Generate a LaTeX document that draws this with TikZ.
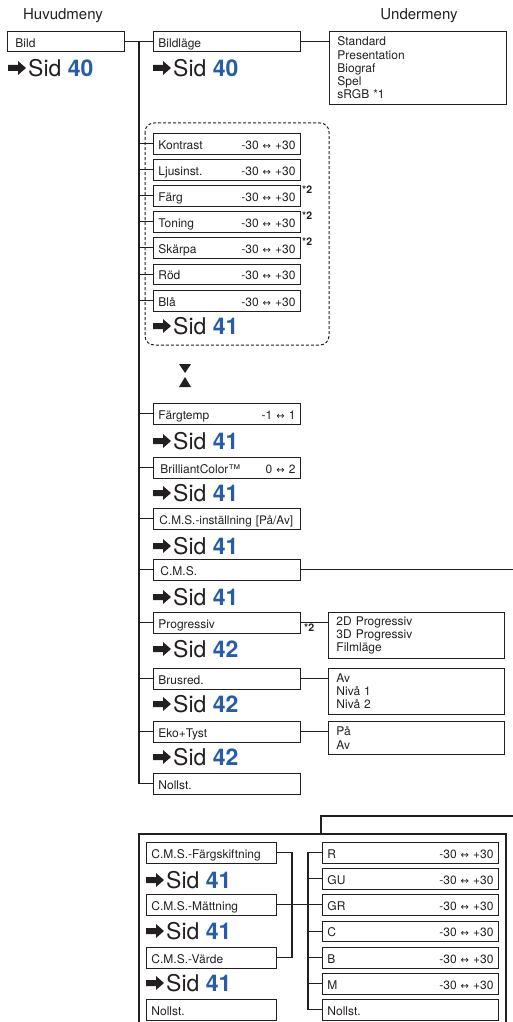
\documentclass[tikz,border=0pt]{standalone}
\usepackage{fontspec}
\setmainfont{TeX Gyre Heros}
\newfontfamily\dejavu{DejaVu Sans}
\usetikzlibrary{calc}
\definecolor{ink}{RGB}{35,31,32}
\definecolor{sidblue}{RGB}{38,92,168}
\newcommand\lr{{\dejavu\fontsize{10}{10}\selectfont ↔}}
\newcommand\rng[2]{#1 \lr{} #2}
\newcommand\sidref[4]{%
  \fill[ink] (#2,#3) ++(0,-3) -- ++(10,0) -- ++(0,-4) -- ++(8,7) -- ++(-8,7) -- ++(0,-4) -- ++(-10,0) -- cycle;
  \node[sidtext] (#1) at ({#2+20},#3) {Sid \textcolor{sidblue}{\bfseries #4}};
}
\begin{document}
\begin{tikzpicture}[x=1pt,y=-1pt,
  box/.style={draw=ink, line width=0.9pt, anchor=north west, minimum height=20.5pt,
    inner xsep=5pt, inner ysep=0pt, text height=11.3pt, text depth=0.5pt,
    font=\fontsize{12}{13}\selectfont, align=left, text=ink},
  subbox/.style={box, text width=137pt},
  mainbox/.style={box, text width=107pt},
  lbox/.style={box, text width=120pt},
  rbox/.style={box, text width=166pt},
  opt/.style={draw=ink, line width=0.9pt, anchor=north west, inner xsep=8pt, inner ysep=0pt,
    font=\fontsize{12}{13.2}\selectfont, align=left, text=ink},
  conn/.style={draw=ink, line width=1.4pt},
  sidtext/.style={anchor=west, inner sep=0pt, font=\fontsize{23}{23}\selectfont, text=ink},
  startwo/.style={anchor=north west, inner sep=0pt, font=\bfseries\fontsize{10.5}{10.5}\selectfont, text=ink},
  header/.style={inner sep=0pt, font=\fontsize{15}{16}\selectfont, text=ink}
]
\useasboundingbox (0,0) rectangle (513,1022);

% headers
\node[header] (hmain) at (63,16) {Huvudmeny};
\node[header] (hsub) at (419,16) {Undermeny};

% top boxes
\node[mainbox] (bild) at (7,31) {\hspace{3pt}Bild};
\sidref{sid0}{8}{68}{40}
\node[subbox] (bildlage) at (153,31) {Bildläge};
\sidref{sid1}{153}{68}{40}
\node[opt, minimum width=177pt, minimum height=73pt, text width=161pt] (bildopts) at (329,31)
  {Standard\\Presentation\\Biograf\\Spel\\sRGB *1};

% dashed group
\draw[ink, line width=1pt, dash pattern=on 3pt off 2pt, rounded corners=9pt] (145,123) rectangle (329,345);
\node[subbox] (kontrast) at (153,133) {Kontrast\hfill \rng{-30}{+30}};
\node[subbox] (ljus) at (153,159) {Ljusinst.\hfill \rng{-30}{+30}};
\node[subbox] (farg) at (153,185) {Färg\hfill \rng{-30}{+30}};
\node[subbox] (toning) at (153,211) {Toning\hfill \rng{-30}{+30}};
\node[subbox] (skarpa) at (153,237) {Skärpa\hfill \rng{-30}{+30}};
\node[subbox] (rod) at (153,263.5) {Röd\hfill \rng{-30}{+30}};
\node[subbox] (bla) at (153,290) {Blå\hfill \rng{-30}{+30}};
\node[startwo] (st1) at (302,186) {*2};
\node[startwo] (st2) at (302,212) {*2};
\node[startwo] (st3) at (302,238) {*2};
\sidref{sid2}{153}{326}{41}

% hourglass
\fill[ink] (179,364) -- (191,364) -- (185,373) -- cycle;
\fill[ink] (185,377) -- (191,387) -- (179,387) -- cycle;

% lower items
\node[subbox] (fargtemp) at (153,403) {Färgtemp\hfill \rng{-1}{1}};
\sidref{sid3}{153}{441}{41}
\node[subbox] (brill) at (153,457) {\hspace{2pt}BrilliantColor™\hfill \rng{0}{2}};
\sidref{sid4}{153}{493}{41}
\node[subbox] (cmsinst) at (153,508) {\mbox{\hspace{1pt}\fontsize{11.8}{13}\selectfont C.M.S.-inställning [På/Av]}};
\sidref{sid5}{153}{546}{41}
\node[subbox] (cms) at (153,559) {\hspace{2pt}C.M.S.};
\sidref{sid6}{153}{597}{41}
\node[subbox] (prog) at (153,612) {Progressiv};
\sidref{sid7}{153}{649}{42}
\node[subbox] (brus) at (153,668) {Brusred.};
\sidref{sid8}{153}{704}{42}
\node[subbox] (eko) at (153,721) {Eko+Tyst};
\sidref{sid9}{153}{757}{42}
\node[subbox] (nollst) at (153,773) {Nollst.};

\node[opt, minimum width=176pt, minimum height=46pt, text width=160pt] (progopts) at (328,612)
  {2D Progressiv\\3D Progressiv\\Filmläge};
\node[startwo] (st4) at (304,624) {*2};
\node[opt, minimum width=176pt, minimum height=46pt, text width=160pt] (brusopts) at (328,668)
  {Av\\Nivå 1\\Nivå 2};
\node[opt, minimum width=176pt, minimum height=33pt, text width=160pt] (ekoopts) at (328,721)
  {På\\Av};

% trunk connectors
\coordinate (trunk) at (139,41.25);
\coordinate (rightedge) at (513,0);
\draw[conn] (bild.east) -- (bildlage.west);
\draw[conn] (bildlage.east) -- (bildlage.east -| bildopts.west);
\draw[conn] (trunk) |- (nollst.west);
\foreach \n in {kontrast,ljus,farg,toning,skarpa,rod,bla,fargtemp,brill,cmsinst,cms,prog,brus,eko}
  \draw[conn] (trunk |- \n.west) -- (\n.west);
\draw[conn] (prog.east) -- (prog.east -| progopts.west);
\draw[conn] (brus.east) -- (brus.east -| brusopts.west);
\draw[conn] (eko.east) -- (eko.east -| ekoopts.west);
\draw[conn] (cms.east) -- (cms.east -| rightedge);

% C.M.S. sub menu frame
\draw[conn] (139,1024) -- (139,834) -- (506,834) -- (506,1024);
\coordinate (cmsin) at (321,834);
\coordinate (cmsend) at (513,816);
\draw[conn] (cmsin) |- (cmsend);

\node[lbox] (fskift) at (146,842) {C.M.S.-Färgskiftning};
\sidref{sid10}{146}{880}{41}
\node[lbox] (matt) at (146,894) {C.M.S.-Mättning};
\sidref{sid11}{146}{931}{41}
\node[lbox] (varde) at (146,947) {C.M.S.-Värde};
\sidref{sid12}{146}{983}{41}
\node[lbox] (lnoll) at (146,999) {Nollst.};

\node[rbox] (r) at (322,842) {R\hfill \rng{-30}{+30}};
\node[rbox] (gu) at (322,868) {GU\hfill \rng{-30}{+30}};
\node[rbox] (gr) at (322,894) {GR\hfill \rng{-30}{+30}};
\node[rbox] (c) at (322,920.5) {C\hfill \rng{-30}{+30}};
\node[rbox] (b) at (322,947) {B\hfill \rng{-30}{+30}};
\node[rbox] (m) at (322,973) {M\hfill \rng{-30}{+30}};
\node[rbox] (rnoll) at (322,999) {Nollst.};

\coordinate (lb) at (292,0);
\coordinate (rb) at (308,0);
\draw[conn] (fskift.east) -| (lb |- varde.east) -- (varde.east);
\draw[conn] (matt.east) -- (gr.west);
\draw[conn] (r.west) -| (rb |- rnoll.west) -- (rnoll.west);
\foreach \n in {gu,gr,c,b,m}
  \draw[conn] (rb |- \n.west) -- (\n.west);
\end{tikzpicture}
\end{document}
